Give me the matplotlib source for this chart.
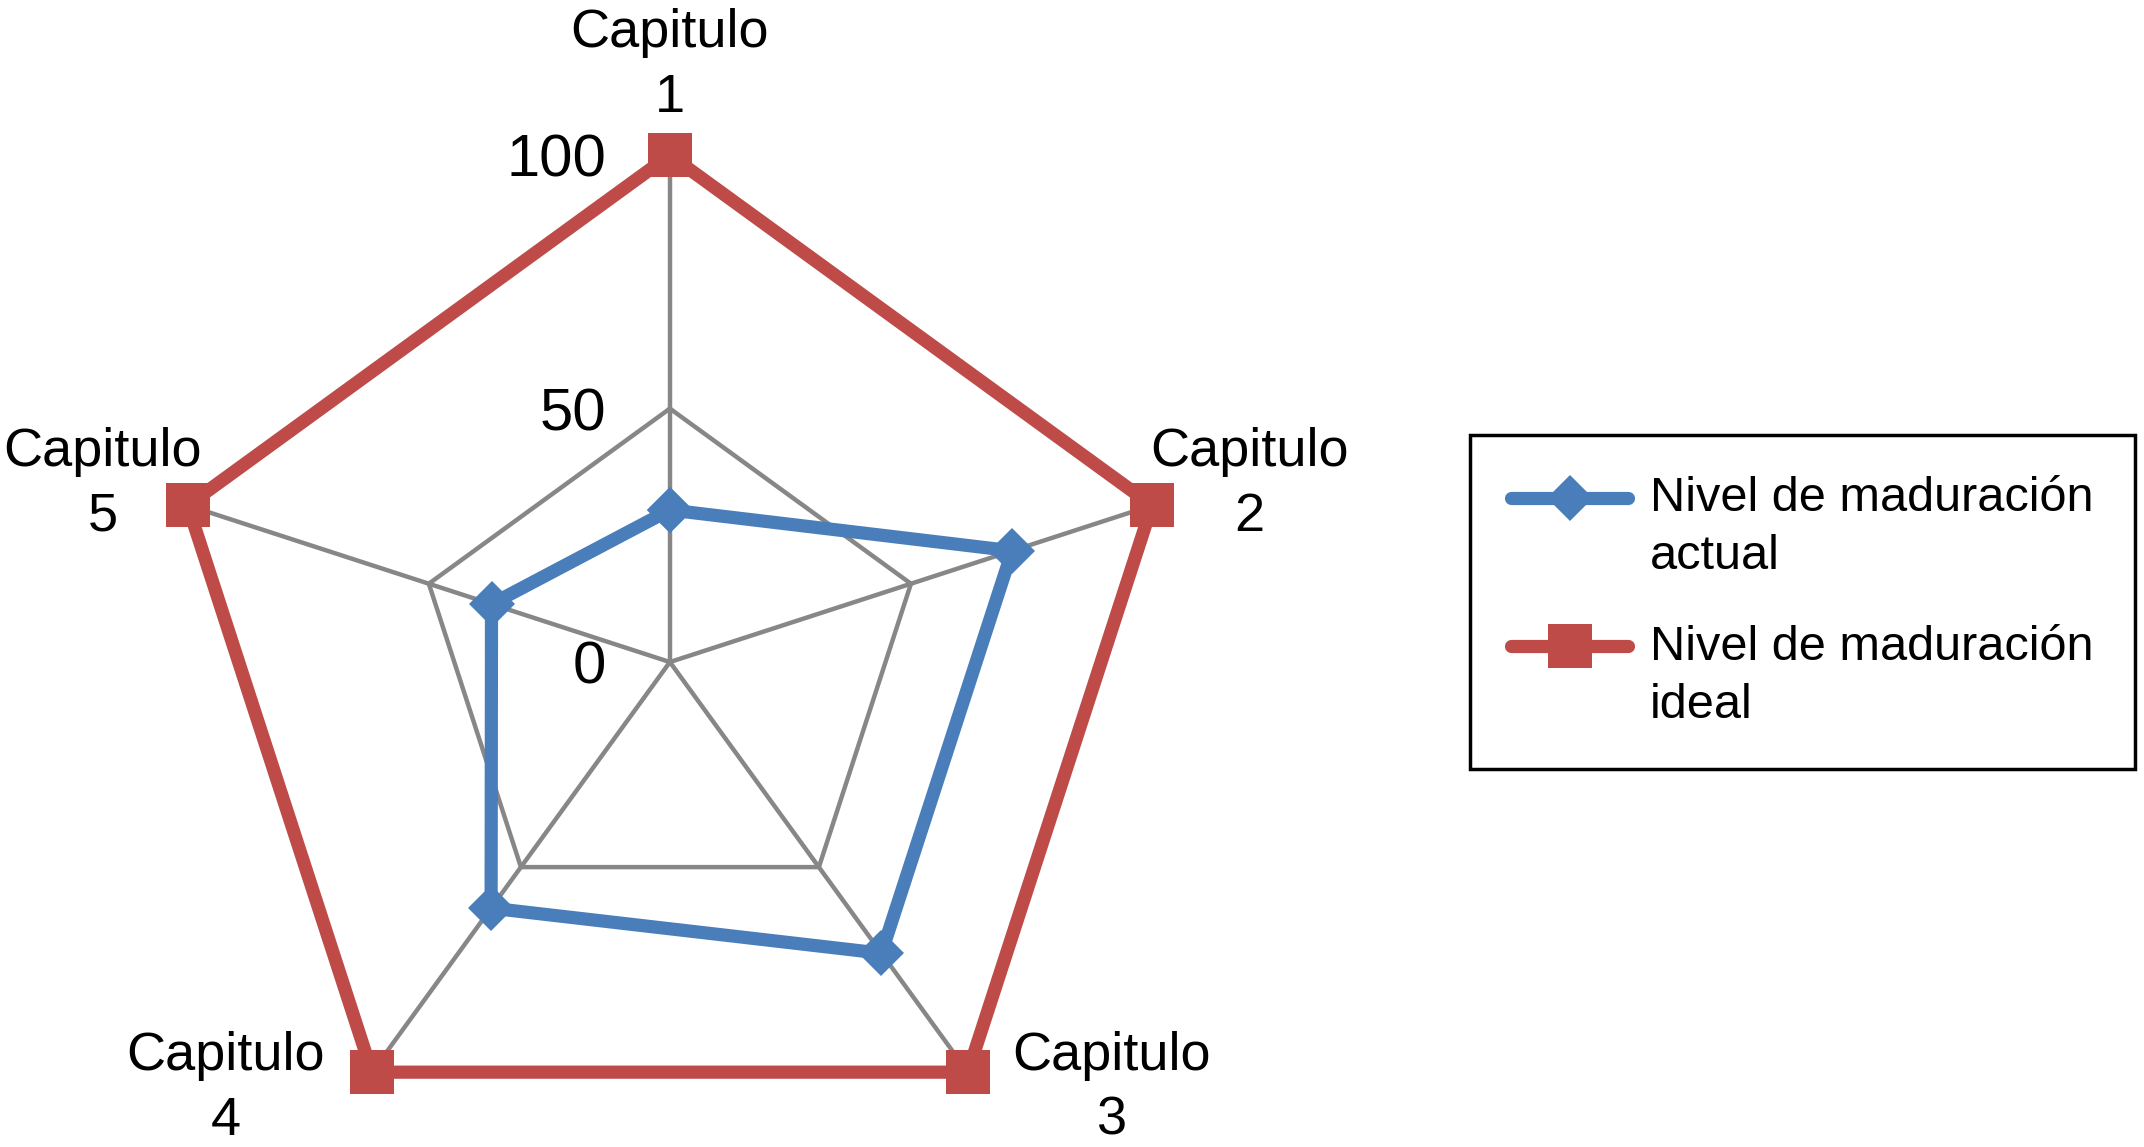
import numpy as np
import matplotlib.pyplot as plt
from matplotlib.lines import Line2D
from matplotlib.legend_handler import HandlerLine2D

plt.rcParams['font.family'] = ['Liberation Sans', 'DejaVu Sans']

categories = ["Capitulo\n1", "Capitulo\n2", "Capitulo\n3", "Capitulo\n4", "Capitulo\n5"]
actual = [30, 71, 71, 60, 37]
ideal = [100, 100, 100, 100, 100]
r_ticks = [0, 50, 100]
series_names = ["Nivel de maduración\nactual", "Nivel de maduración\nideal"]

blue = "#4A7EBB"
red = "#BE4B48"
gray = "#878787"


def close(v):
    return np.append(v, v[0])


class FirstLineHandler(HandlerLine2D):
    # put the legend marker next to the first text line, like Excel does
    def __init__(self, shift, **kw):
        super().__init__(**kw)
        self.shift = shift

    def create_artists(self, *args, **kwargs):
        artists = super().create_artists(*args, **kwargs)
        for a in artists:
            a.set_ydata(np.asarray(a.get_ydata()) + self.shift)
        return artists


theta = np.linspace(0, 2 * np.pi, len(categories), endpoint=False)

fig = plt.figure(figsize=(21.44, 11.47), dpi=100)
ax = fig.add_axes([0.076, -0.0192, 0.4729, 0.884], projection='polar')
ax.set_theta_offset(np.pi / 2)
ax.set_theta_direction(-1)
ax.set_ylim(0, 100)
ax.set_xticks([])
ax.set_yticks([])
ax.grid(False)
ax.spines['polar'].set_visible(False)
ax.patch.set_visible(False)

# pentagon grid
for r in r_ticks[1:]:
    ax.plot(close(theta), [r] * (len(theta) + 1), color=gray, lw=3.2, zorder=1, clip_on=False)
for t in theta:
    ax.plot([t, t], [0, r_ticks[-1]], color=gray, lw=3.2, zorder=1, clip_on=False)

ax.plot(close(theta), close(actual), color=blue, lw=9.5, marker='D', ms=23, mew=0,
        solid_capstyle='round', label=series_names[0], zorder=3, clip_on=False)
ax.plot(close(theta), close(ideal), color=red, lw=9.5, marker='s', ms=31, mew=0,
        solid_capstyle='round', label=series_names[1], zorder=3, clip_on=False)

# category labels
offsets = [(0, 90), (97, 21), (144, -16), (-146, -16), (-85, 21)]
for t, lab, off in zip(theta, categories, offsets):
    ax.annotate(lab, xy=(t, 100), xytext=off, textcoords='offset pixels',
                ha='center', va='center', fontsize=39, linespacing=1.38,
                annotation_clip=False)

# radial tick labels
for r in r_ticks:
    ax.annotate(str(r), xy=(0, r), xytext=(-64, -6), textcoords='offset pixels',
                ha='right', va='center', fontsize=43, annotation_clip=False)

ax.set_xlim(0, 2 * np.pi)

leg = fig.legend(loc='upper left', bbox_to_anchor=(1470 / 2144, 1 - 435 / 1147),
                 borderaxespad=0, fancybox=False, edgecolor='black', framealpha=1,
                 fontsize=35, handlelength=2.4, handletextpad=0.45, borderpad=0.85,
                 labelspacing=0.95, numpoints=1,
                 handler_map={Line2D: FirstLineHandler(22)})
leg.get_frame().set_linewidth(2.5)
for txt in leg.get_texts():
    txt.set_linespacing(1.36)

fig.savefig("out.png", dpi=100)
